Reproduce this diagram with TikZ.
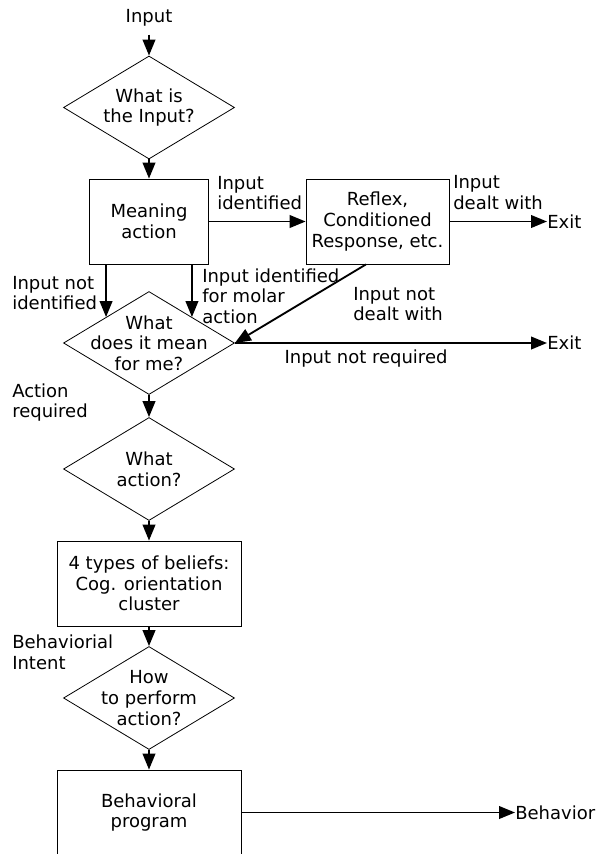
\documentclass[tikz,border=0pt]{standalone}
\usepackage{fontspec}
\setmainfont{DejaVu Sans}
\usetikzlibrary{shapes.geometric,arrows.meta}
\begin{document}
\begin{tikzpicture}[x=0.75pt,y=-0.75pt,font=\fontsize{13.5}{15.5}\selectfont,
  decision/.style={diamond,draw,line width=0.6pt,inner sep=0pt,minimum width=128.25pt,minimum height=77.25pt},
  block/.style={rectangle,draw,line width=0.6pt,inner sep=0pt,align=center,minimum height=63.75pt},
  txt/.style={align=center,inner sep=0pt},
  lbl/.style={align=left,anchor=west,inner sep=0pt},
  flow/.style={line width=1.4pt,-{Triangle[length=12pt,width=9.5pt]}}]
\clip (0,0) rectangle (601,854);
% questions and boxes, top to bottom
\node[inner sep=6pt] (in) at (149,18) {Input};
\node[decision] (q1) at (149,107.5) {};
\node[txt] (q1t) at (q1) {What is\\the Input?};
\node[block,minimum width=89.25pt] (mean) at (149,221.5) {Meaning\\action};
\node[block,minimum width=107.25pt] (reflex) at (377.5,221.5) {Reflex,\\Conditioned\\Response, etc.};
\node[decision] (q2) at (149,343) {};
\node[txt] (q2t) at (q2) {What\\does it mean\\for me?};
\node[decision] (q3) at (149,469) {};
\node[txt] (q3t) at (q3) {What\\action?};
\node[block,minimum width=138pt] (belief) at (149,583.5) {4 types of beliefs:\\Cog. orientation\\cluster};
\node[decision] (q4) at (149,698) {};
\node[txt] (q4t) at (q4) {How\\to perform\\action?};
\node[block,minimum width=138pt] (prog) at (149,812.5) {Behavioral\\program};
% exits
\node[lbl] (exit1) at (547,221.5) {Exit};
\node[lbl] (exit2) at (547,343) {Exit};
\node[lbl] (beh) at (515,812.5) {Behavior};
% labels
\node[lbl] (l1) at (217,193) {Input\\identified};
\node[lbl] (l2) at (453,192.5) {Input\\dealt with};
\node[lbl] (l3) at (12,293) {Input not\\identified};
\node[lbl] (l4) at (202,296) {Input identified\\for molar\\action};
\node[lbl] (l5) at (353,304) {Input not\\dealt with};
\node[txt] (l6) at (366,359) {Input not required};
\node[lbl] (l7) at (12,402.5) {Action\\required};
\node[lbl] (l8) at (12,652.5) {Behaviorial\\Intent};
% arrows
\draw[flow] (in.south) -- (q1.north);
\draw[flow] (q1.south) -- (mean.north);
\draw[flow] (mean.east) -- (reflex.west);
\draw[flow] (reflex.east) -- (exit1.west);
\draw[flow] (mean.south -| q2.north west) -- (q2.north west);
\draw[flow] (mean.south -| q2.north east) -- (q2.north east);
\draw[flow] (reflex.-105) -- (q2.east);
\draw[flow] (q2.east) -- (exit2.west);
\draw[flow] (q2.south) -- (q3.north);
\draw[flow] (q3.south) -- (belief.north);
\draw[flow] (belief.south) -- (q4.north);
\draw[flow] (q4.south) -- (prog.north);
\draw[flow] (prog.east) -- (beh.west);
\end{tikzpicture}
\end{document}
